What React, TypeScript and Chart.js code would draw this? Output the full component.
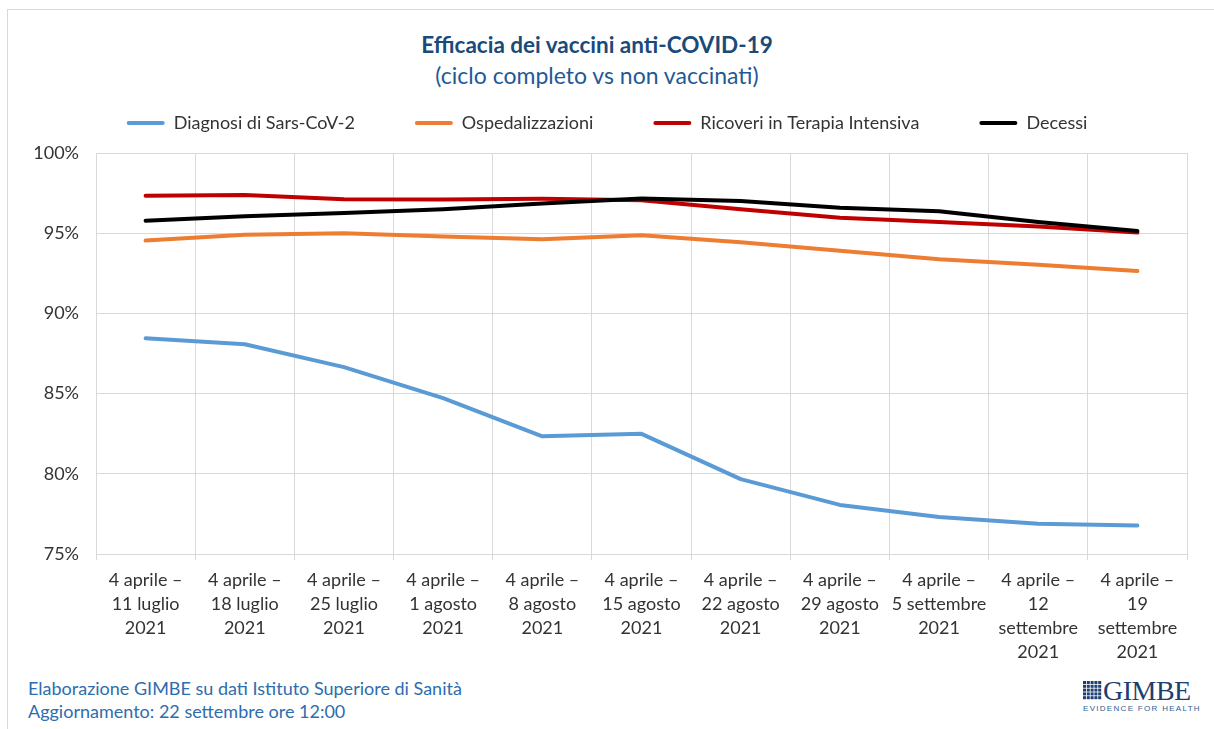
import React, { useEffect, useRef } from "react";
import { Chart, registerables } from "chart.js";

Chart.register(...registerables);

const categories: string[][] = [
  ["4 aprile –", "11 luglio", "2021"],
  ["4 aprile –", "18 luglio", "2021"],
  ["4 aprile –", "25 luglio", "2021"],
  ["4 aprile –", "1 agosto", "2021"],
  ["4 aprile –", "8 agosto", "2021"],
  ["4 aprile –", "15 agosto", "2021"],
  ["4 aprile –", "22 agosto", "2021"],
  ["4 aprile –", "29 agosto", "2021"],
  ["4 aprile –", "5 settembre", "2021"],
  ["4 aprile –", "12", "settembre", "2021"],
  ["4 aprile –", "19", "settembre", "2021"],
];

const seriesNames = [
  "Diagnosi di Sars-CoV-2",
  "Ospedalizzazioni",
  "Ricoveri in Terapia Intensiva",
  "Decessi",
];
const seriesColors = ["#5B9BD5", "#ED7D31", "#C00000", "#000000"];

const diagnosi = [88.45, 88.08, 86.65, 84.72, 82.34, 82.49, 79.67, 78.06, 77.3, 76.88, 76.78];
const ospedalizzazioni = [94.54, 94.9, 95.0, 94.79, 94.62, 94.87, 94.43, 93.9, 93.38, 93.03, 92.65];
const terapiaIntensiva = [97.33, 97.38, 97.12, 97.1, 97.14, 97.06, 96.5, 95.97, 95.7, 95.42, 95.04];
const decessi = [95.78, 96.05, 96.26, 96.49, 96.85, 97.16, 97.0, 96.58, 96.37, 95.7, 95.13];

const yMin = 75;
const yMax = 100;
const yStep = 5;

const FONT = "Lato, 'Open Sans', sans-serif";
const GRID = "#d9d9d9";
const TEXT = "#333333";

export default function App() {
  const canvasRef = useRef<HTMLCanvasElement | null>(null);

  useEffect(() => {
    if (!canvasRef.current) return;
    const values = [diagnosi, ospedalizzazioni, terapiaIntensiva, decessi];
    const legendHeight = {
      id: "legendHeight",
      afterInit(chart: any) {
        const legend = chart.legend;
        if (!legend) return;
        const orig = legend.fit;
        legend.fit = function () {
          orig.call(this);
          this.height = 99;
        };
      },
    };
    const chart = new Chart(canvasRef.current, {
      type: "line",
      data: {
        labels: categories,
        datasets: values.map((v, i) => ({
          label: seriesNames[i],
          data: v,
          borderColor: seriesColors[i],
          backgroundColor: seriesColors[i],
          borderWidth: 4,
          pointRadius: 0,
          tension: 0,
          borderCapStyle: "round" as const,
          borderJoinStyle: "round" as const,
          order: 4 - i,
          yAxisID: "y",
        })),
      },
      options: {
        animation: false,
        responsive: false,
        maintainAspectRatio: false,
        layout: { padding: 0 },
        plugins: {
          tooltip: { enabled: false },
          title: { display: false },
          legend: {
            display: true,
            position: "top",
            labels: {
              boxWidth: 38,
              boxHeight: 4,
              padding: 60,
              color: TEXT,
              font: { family: FONT, size: 18 },
              sort: (a: any, b: any) => a.datasetIndex - b.datasetIndex,
              generateLabels: (c: any) =>
                Chart.defaults.plugins.legend.labels
                  .generateLabels(c)
                  .map((it: any) => ({ ...it, lineWidth: 0, borderRadius: 2 })),
            },
          },
        },
        scales: {
          x: {
            type: "category",
            offset: true,
            grid: {
              display: true,
              color: GRID,
              lineWidth: 1,
              offset: true,
              drawTicks: true,
              tickLength: 6,
            },
            border: { display: true, color: GRID },
            ticks: {
              color: TEXT,
              font: { family: FONT, size: 18, lineHeight: 1.3333 },
              padding: 8,
              maxRotation: 0,
              minRotation: 0,
              autoSkip: false,
            },
            afterFit: (s: any) => {
              s.height = 110;
            },
          },
          y: {
            type: "linear",
            position: "left",
            min: yMin,
            max: yMax,
            grid: { color: GRID, lineWidth: 1, drawTicks: false },
            border: { display: true, color: GRID },
            ticks: {
              stepSize: yStep,
              color: TEXT,
              padding: 17,
              font: { family: FONT, size: 18 },
              callback: (v: any) => `${v}%`,
            },
            afterFit: (s: any) => {
              s.width = 96;
            },
          },
          y2: {
            type: "linear",
            position: "right",
            display: true,
            grid: { display: false, drawTicks: false },
            border: { display: false },
            ticks: { display: false },
            afterFit: (s: any) => {
              s.width = 27;
            },
          },
        },
      },
      plugins: [legendHeight],
    });
    return () => chart.destroy();
  }, []);

  return (
    <div
      style={{
        position: "absolute",
        left: 0,
        top: 0,
        width: 1214,
        height: 729,
        overflow: "hidden",
        background: "#ffffff",
        fontFamily: FONT,
      }}
    >
      <div
        style={{
          position: "absolute",
          left: 7,
          top: 9,
          width: 1230,
          height: 740,
          borderLeft: `1px solid ${GRID}`,
          borderTop: `1px solid ${GRID}`,
        }}
      />
      <div
        style={{
          position: "absolute",
          left: 0,
          width: 1194,
          top: 31,
          textAlign: "center",
          fontSize: 22.5,
          lineHeight: "28px",
          fontWeight: 700,
          color: "#1A4A7A",
        }}
      >
        Efficacia dei vaccini anti-COVID-19
      </div>
      <div
        style={{
          position: "absolute",
          left: 0,
          width: 1194,
          top: 61,
          textAlign: "center",
          fontSize: 23,
          lineHeight: "28px",
          color: "#1F5A96",
        }}
      >
        (ciclo completo vs non vaccinati)
      </div>
      <canvas
        ref={canvasRef}
        width={1214}
        height={610}
        style={{ position: "absolute", left: 0, top: 54, width: 1214, height: 610 }}
      />
      <div
        style={{
          position: "absolute",
          left: 28,
          top: 677,
          fontSize: 18,
          lineHeight: "23px",
          color: "#2E6DAE",
        }}
      >
        <div>Elaborazione GIMBE su dati Istituto Superiore di Sanità</div>
        <div>Aggiornamento: 22 settembre ore 12:00</div>
      </div>
      <div style={{ position: "absolute", left: 1082, top: 676, width: 110, height: 40 }}>
        <svg width={19} height={20} style={{ position: "absolute", left: 1, top: 5 }}>
          {Array.from({ length: 25 }).map((_, k) => (
            <rect
              key={k}
              x={(k % 5) * 3.8}
              y={Math.floor(k / 5) * 3.8}
              width={3}
              height={3}
              fill="#1B3F73"
            />
          ))}
        </svg>
        <div
          style={{
            position: "absolute",
            left: 21,
            top: 0,
            fontFamily: "'Liberation Serif', serif",
            fontSize: 28,
            lineHeight: "29px",
            color: "#1B3F73",
            letterSpacing: -0.5,
          }}
        >
          GIMBE
        </div>
        <div
          style={{
            position: "absolute",
            left: 1,
            top: 28,
            fontFamily: "'Liberation Sans', sans-serif",
            fontSize: 8,
            lineHeight: "9px",
            color: "#2E5E8F",
            letterSpacing: 1.3,
            whiteSpace: "nowrap",
          }}
        >
          EVIDENCE FOR HEALTH
        </div>
      </div>
    </div>
  );
}
